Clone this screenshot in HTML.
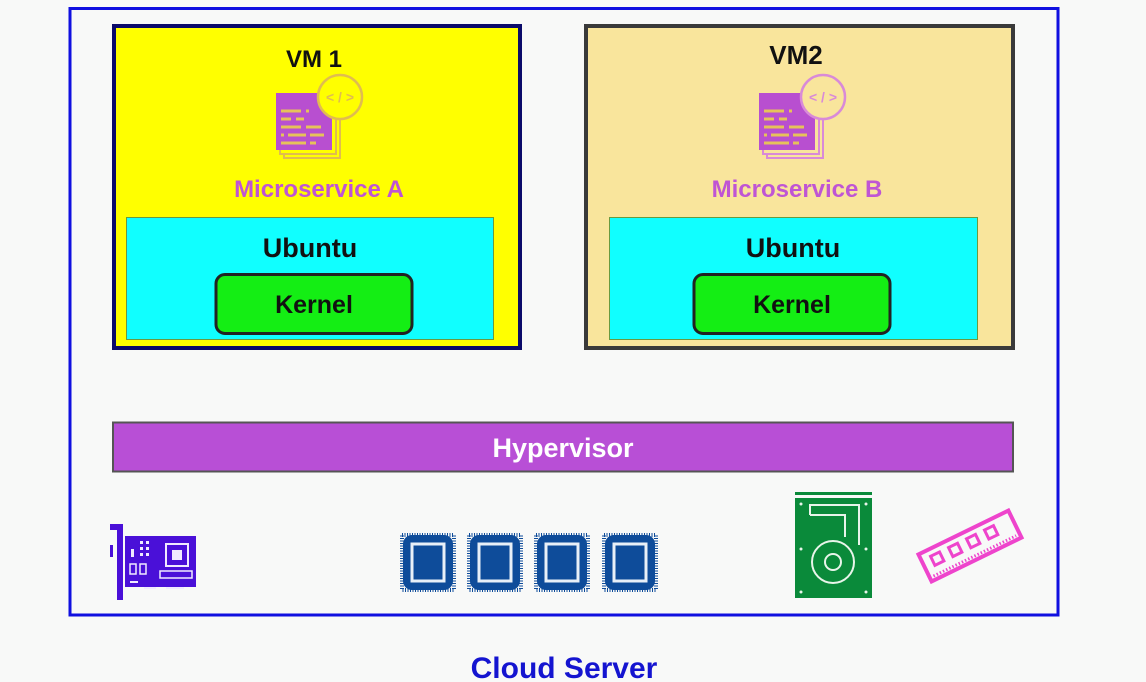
<!DOCTYPE html>
<html><head><meta charset="utf-8"><style>
html,body{margin:0;padding:0;background:#f8f9f8;}
svg{display:block;font-family:"Liberation Sans",Arial,sans-serif;font-weight:bold;}
</style></head><body>
<svg width="1146" height="682" viewBox="0 0 1146 682" xmlns="http://www.w3.org/2000/svg">
<defs>
<g id="chip">
  <rect x="4" y="5" width="52" height="55" fill="none" stroke="#0e4c9a" stroke-width="4" stroke-dasharray="1 1.5"/>
  <rect x="5" y="5" width="50" height="55" rx="9" fill="#0e4c9a"/>
  <rect x="14" y="14" width="32" height="37" fill="none" stroke="#e8f0f8" stroke-width="3"/>
</g>
<g id="lines">
  <g stroke="#e6c25a" stroke-width="3">
    <line x1="5" y1="18" x2="25" y2="18"/><line x1="30" y1="18" x2="33" y2="18"/>
    <line x1="5" y1="26" x2="15" y2="26"/><line x1="20" y1="26" x2="28" y2="26"/>
    <line x1="5" y1="34" x2="25" y2="34"/><line x1="30" y1="34" x2="45" y2="34"/>
    <line x1="5" y1="42" x2="8" y2="42"/><line x1="12" y1="42" x2="30" y2="42"/><line x1="34" y1="42" x2="48" y2="42"/>
    <line x1="5" y1="50" x2="30" y2="50"/><line x1="34" y1="50" x2="40" y2="50"/>
  </g>
</g>
</defs>

<rect x="70" y="8.5" width="988" height="606.5" fill="none" stroke="#1010e0" stroke-width="3"/>

<!-- VM1 -->
<rect x="114" y="26" width="406" height="322" fill="#ffff00" stroke="#0b0b6a" stroke-width="4"/>
<text x="314" y="67" font-size="24" text-anchor="middle" fill="#111">VM 1</text>
<g transform="translate(276,93)">
  <rect x="8" y="8" width="56" height="57" fill="#ffff00" stroke="#e0bc50" stroke-width="2"/>
  <rect x="4" y="4" width="56" height="57" fill="#ffff00" stroke="#e0bc50" stroke-width="2"/>
  <rect x="0" y="0" width="56" height="57" fill="#b84fd0"/>
  <use href="#lines"/>
  <circle cx="64" cy="4" r="22" fill="#ffff00" stroke="#e0bc50" stroke-width="2.5"/>
  <text x="64" y="9" font-size="14" text-anchor="middle" fill="#e0bc50">&lt; / &gt;</text>
</g>
<text x="319" y="197" font-size="24" text-anchor="middle" fill="#bf55d4">Microservice A</text>
<rect x="126.5" y="217.5" width="367" height="122" fill="#10ffff" stroke="#6a9a40" stroke-width="1"/>
<text x="310" y="257" font-size="27" text-anchor="middle" fill="#111">Ubuntu</text>
<rect x="216" y="274.5" width="196" height="59" rx="9" fill="#14ee14" stroke="#222" stroke-width="3"/>
<text x="314" y="313" font-size="25" text-anchor="middle" fill="#111">Kernel</text>

<!-- VM2 -->
<rect x="586" y="26" width="427" height="322" fill="#f9e59c" stroke="#3a3a3a" stroke-width="4"/>
<text x="796" y="64" font-size="26" text-anchor="middle" fill="#111">VM2</text>
<g transform="translate(759,93)">
  <rect x="8" y="8" width="56" height="57" fill="#f9e59c" stroke="#d98ad8" stroke-width="2"/>
  <rect x="4" y="4" width="56" height="57" fill="#f9e59c" stroke="#d98ad8" stroke-width="2"/>
  <rect x="0" y="0" width="56" height="57" fill="#b84fd0"/>
  <use href="#lines"/>
  <circle cx="64" cy="4" r="22" fill="#f9e59c" stroke="#d98ad8" stroke-width="2.5"/>
  <text x="64" y="9" font-size="14" text-anchor="middle" fill="#d98ad8">&lt; / &gt;</text>
</g>
<text x="797" y="197" font-size="24" text-anchor="middle" fill="#bf55d4">Microservice B</text>
<rect x="609.5" y="217.5" width="368" height="122" fill="#10ffff" stroke="#6a9a40" stroke-width="1"/>
<text x="793" y="257" font-size="27" text-anchor="middle" fill="#111">Ubuntu</text>
<rect x="694" y="274.5" width="196" height="59" rx="9" fill="#14ee14" stroke="#222" stroke-width="3"/>
<text x="792" y="313" font-size="25" text-anchor="middle" fill="#111">Kernel</text>

<!-- Hypervisor -->
<rect x="113" y="422.5" width="900" height="49" fill="#b84fd6" stroke="#555" stroke-width="2"/>
<text x="563" y="457" font-size="27" text-anchor="middle" fill="#fff">Hypervisor</text>

<!-- NIC -->
<g fill="#4a10d8">
  <rect x="110" y="524" width="12" height="6"/>
  <rect x="117" y="524" width="6" height="76"/>
  <rect x="110" y="545" width="3" height="12"/>
  <rect x="125" y="536" width="71" height="51"/>
</g>
<g fill="#f0eaff">
  <rect x="131" y="549" width="3" height="8"/>
  <rect x="140" y="541" width="3" height="3"/><rect x="146" y="541" width="3" height="3"/>
  <rect x="140" y="547" width="3" height="3"/><rect x="146" y="547" width="3" height="3"/>
  <rect x="140" y="553" width="3" height="3"/><rect x="146" y="553" width="3" height="3"/>
  <rect x="130" y="564" width="6" height="10" fill="none" stroke="#f0eaff" stroke-width="1.5"/>
  <rect x="140" y="564" width="6" height="10" fill="none" stroke="#f0eaff" stroke-width="1.5"/>
  <rect x="166" y="544" width="22" height="22" fill="none" stroke="#f0eaff" stroke-width="2"/>
  <rect x="172" y="550" width="10" height="10"/>
  <rect x="160" y="571" width="32" height="7" fill="none" stroke="#f0eaff" stroke-width="1.5"/>
  <rect x="130" y="581" width="8" height="2"/><rect x="144" y="587" width="12" height="2"/><rect x="166" y="587" width="18" height="2"/>
</g>

<!-- CPUs -->
<use href="#chip" transform="translate(398,530)"/>
<use href="#chip" transform="translate(465,530)"/>
<use href="#chip" transform="translate(532,530)"/>
<use href="#chip" transform="translate(600,530)"/>

<!-- HDD -->
<rect x="795" y="492" width="77" height="3" fill="#0a8a3a"/>
<rect x="795" y="498" width="77" height="100" fill="#0a8a3a"/>
<g fill="none" stroke="#e8f5ea" stroke-width="2">
  <path d="M810 515 v-10 h49 v40"/>
  <path d="M810 515 h35 v22"/>
  <circle cx="833" cy="562" r="21"/>
  <circle cx="833" cy="562" r="8"/>
</g>
<g fill="#e8f5ea"><circle cx="801" cy="504" r="1.5"/><circle cx="866" cy="504" r="1.5"/><circle cx="801" cy="549" r="1.5"/><circle cx="866" cy="549" r="1.5"/><circle cx="801" cy="592" r="1.5"/><circle cx="866" cy="592" r="1.5"/></g>

<!-- RAM -->
<g transform="translate(970,546) rotate(-26)">
  <rect x="-50" y="-15" width="100" height="30" fill="none" stroke="#ee44cc" stroke-width="4"/>
  <g fill="none" stroke="#ee44cc" stroke-width="3">
    <rect x="-40" y="-8" width="10" height="10"/><rect x="-20" y="-8" width="10" height="10"/>
    <rect x="0" y="-8" width="10" height="10"/><rect x="20" y="-8" width="10" height="10"/>
  </g>
  <line x1="-46" y1="11" x2="46" y2="11" stroke="#ee44cc" stroke-width="3" stroke-dasharray="1.5 2"/>
</g>

<text x="564" y="678" font-size="30" text-anchor="middle" fill="#1414d0">Cloud Server</text>
</svg>
</body></html>
